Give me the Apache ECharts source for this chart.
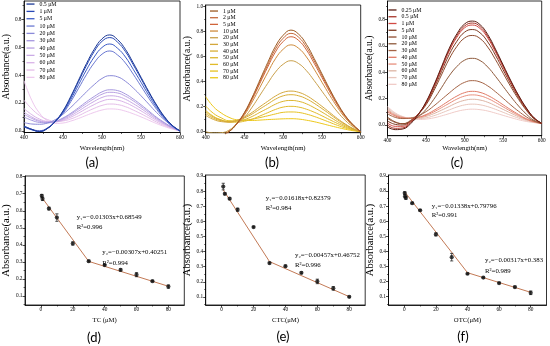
<!DOCTYPE html>
<html><head><meta charset="utf-8">
<script src="https://cdn.jsdelivr.net/npm/echarts@6/dist/echarts.min.js"></script>
<style>html,body{margin:0;padding:0;background:#fff}#c{width:550px;height:346px}</style>
</head><body><div id="c"></div>
<script>
// ---------- DATA ----------
const wavelengths = [400,410,420,430,440,450,460,470,480,490,500,510,520,530,540,550,560,570,580,590,600];

// (a) TC spectra
const concA = ['0.5 μM','1 μM','5 μM','10 μM','20 μM','30 μM','40 μM','50 μM','60 μM','70 μM','80 μM'];
const absA = [
 [0.035,0.012,-0.004,0.018,0.069,0.144,0.248,0.365,0.482,0.585,0.660,0.688,0.654,0.585,0.488,0.385,0.282,0.186,0.103,0.041,0.0],
 [0.030,0.010,-0.004,0.018,0.068,0.140,0.241,0.355,0.468,0.569,0.642,0.669,0.636,0.569,0.475,0.375,0.274,0.181,0.100,0.040,0.0],
 [0.030,0.008,-0.002,0.020,0.068,0.133,0.226,0.332,0.437,0.530,0.598,0.623,0.592,0.530,0.442,0.349,0.255,0.168,0.093,0.037,0.0],
 [0.035,0.012,0.002,0.022,0.068,0.125,0.210,0.306,0.403,0.488,0.550,0.573,0.544,0.487,0.407,0.321,0.235,0.155,0.086,0.034,0.0],
 [0.060,0.050,0.048,0.057,0.081,0.120,0.169,0.224,0.280,0.332,0.376,0.396,0.388,0.356,0.308,0.252,0.192,0.132,0.080,0.036,0.0],
 [0.100,0.076,0.061,0.058,0.069,0.093,0.127,0.167,0.209,0.247,0.280,0.295,0.289,0.265,0.229,0.188,0.143,0.098,0.060,0.027,0.0],
 [0.120,0.090,0.069,0.062,0.068,0.089,0.120,0.157,0.196,0.232,0.263,0.277,0.272,0.249,0.216,0.176,0.134,0.092,0.056,0.025,0.0],
 [0.135,0.100,0.075,0.064,0.066,0.083,0.110,0.143,0.179,0.212,0.240,0.252,0.247,0.227,0.196,0.161,0.122,0.084,0.051,0.023,0.0],
 [0.160,0.117,0.085,0.068,0.065,0.077,0.099,0.128,0.160,0.189,0.214,0.226,0.221,0.203,0.176,0.144,0.109,0.075,0.046,0.021,0.0],
 [0.220,0.158,0.111,0.082,0.068,0.072,0.086,0.109,0.137,0.162,0.183,0.193,0.189,0.174,0.150,0.123,0.094,0.064,0.039,0.018,0.0],
 [0.360,0.219,0.127,0.074,0.054,0.057,0.071,0.090,0.112,0.133,0.150,0.158,0.155,0.142,0.123,0.101,0.077,0.053,0.032,0.014,0.0]
];

// (b) CTC spectra
const concB = ['1 μM','2 μM','5 μM','10 μM','20 μM','30 μM','40 μM','50 μM','60 μM','70 μM','80 μM'];
const absB = [
 [-0.040,-0.050,-0.033,0.000,0.065,0.154,0.276,0.415,0.553,0.683,0.772,0.813,0.780,0.699,0.585,0.463,0.341,0.228,0.130,0.057,0.0],
 [-0.040,-0.047,-0.031,0.000,0.063,0.150,0.268,0.401,0.535,0.661,0.748,0.787,0.756,0.677,0.567,0.449,0.331,0.220,0.126,0.055,0.0],
 [-0.038,-0.046,-0.030,0.000,0.061,0.144,0.258,0.388,0.517,0.638,0.722,0.760,0.730,0.654,0.547,0.433,0.319,0.213,0.122,0.053,0.0],
 [-0.030,-0.040,-0.025,0.003,0.060,0.134,0.238,0.355,0.473,0.584,0.660,0.695,0.667,0.598,0.500,0.396,0.292,0.195,0.111,0.049,0.0],
 [0.000,-0.010,-0.008,0.012,0.062,0.115,0.197,0.292,0.387,0.477,0.540,0.568,0.545,0.488,0.409,0.324,0.239,0.159,0.091,0.040,0.0],
 [0.130,0.098,0.081,0.077,0.091,0.118,0.155,0.200,0.243,0.285,0.315,0.325,0.315,0.289,0.249,0.203,0.154,0.105,0.062,0.026,0.0],
 [0.145,0.108,0.088,0.079,0.089,0.110,0.142,0.182,0.221,0.260,0.287,0.296,0.287,0.263,0.227,0.185,0.141,0.096,0.057,0.024,0.0],
 [0.160,0.117,0.093,0.079,0.083,0.097,0.122,0.155,0.187,0.220,0.243,0.250,0.243,0.223,0.192,0.157,0.119,0.081,0.048,0.020,0.0],
 [0.170,0.123,0.095,0.079,0.076,0.084,0.101,0.126,0.152,0.178,0.197,0.203,0.197,0.180,0.156,0.127,0.096,0.066,0.039,0.016,0.0],
 [0.205,0.147,0.111,0.088,0.088,0.093,0.100,0.113,0.127,0.142,0.155,0.158,0.154,0.141,0.122,0.099,0.075,0.051,0.030,0.013,0.0],
 [0.280,0.200,0.150,0.115,0.095,0.090,0.090,0.093,0.097,0.100,0.103,0.104,0.101,0.092,0.080,0.065,0.049,0.034,0.020,0.008,0.0]
];

// (c) OTC spectra
const concC = ['0.25 μM','0.5 μM','1 μM','5 μM','10 μM','20 μM','30 μM','40 μM','50 μM','60 μM','70 μM','80 μM'];
const absC = [
 [-0.015,-0.035,-0.030,0.010,0.080,0.175,0.300,0.440,0.580,0.690,0.765,0.787,0.760,0.685,0.575,0.455,0.335,0.225,0.130,0.055,0.012],
 [0.000,-0.025,-0.022,0.018,0.082,0.171,0.294,0.432,0.569,0.677,0.750,0.772,0.746,0.672,0.564,0.446,0.329,0.221,0.127,0.054,0.012],
 [0.015,-0.010,-0.010,0.025,0.083,0.168,0.288,0.423,0.558,0.664,0.736,0.757,0.731,0.659,0.553,0.438,0.322,0.217,0.125,0.053,0.012],
 [0.030,0.005,0.000,0.030,0.083,0.162,0.275,0.404,0.533,0.634,0.703,0.723,0.698,0.629,0.529,0.418,0.308,0.207,0.119,0.051,0.012],
 [0.050,0.020,0.010,0.035,0.083,0.153,0.258,0.379,0.500,0.595,0.659,0.678,0.655,0.590,0.496,0.392,0.289,0.194,0.112,0.047,0.012],
 [0.060,0.024,0.010,0.026,0.063,0.118,0.194,0.282,0.372,0.443,0.491,0.505,0.488,0.439,0.369,0.292,0.215,0.144,0.083,0.035,0.012],
 [0.085,0.058,0.049,0.053,0.071,0.101,0.144,0.193,0.242,0.289,0.323,0.336,0.326,0.296,0.252,0.202,0.151,0.104,0.062,0.030,0.012],
 [0.100,0.068,0.052,0.050,0.059,0.079,0.110,0.146,0.184,0.219,0.245,0.255,0.247,0.224,0.191,0.153,0.115,0.080,0.048,0.026,0.012],
 [0.110,0.074,0.055,0.051,0.057,0.073,0.099,0.131,0.164,0.196,0.219,0.228,0.221,0.201,0.171,0.137,0.104,0.072,0.044,0.024,0.012],
 [0.120,0.080,0.058,0.050,0.052,0.065,0.086,0.112,0.140,0.168,0.187,0.195,0.189,0.172,0.146,0.118,0.090,0.063,0.040,0.022,0.012],
 [0.130,0.087,0.061,0.049,0.048,0.054,0.070,0.091,0.114,0.136,0.152,0.158,0.153,0.139,0.119,0.096,0.073,0.052,0.034,0.020,0.012],
 [0.140,0.092,0.064,0.049,0.042,0.045,0.054,0.069,0.086,0.103,0.115,0.120,0.116,0.106,0.090,0.073,0.056,0.040,0.027,0.018,0.012]
];

// (d) TC calibration
const tcConc = [0.5,1,5,10,20,30,40,50,60,70,80];
const tcAbs  = [0.688,0.670,0.613,0.560,0.408,0.304,0.281,0.253,0.225,0.187,0.155];
const tcErr  = [0.008,0.010,0.008,0.022,0.010,0.005,0.004,0.006,0.012,0.004,0.010];
const tcFit  = [[0.5,0.679],[30,0.303],[80,0.157]];
const tcEq   = ['y₁=−0.01303x+0.68549','R²=0.996','y₂=−0.00307x+0.40251','R²=0.994'];

// (e) CTC calibration
const ctcConc = [1,2,5,10,20,30,40,50,60,70,80];
const ctcAbs  = [0.830,0.782,0.750,0.677,0.562,0.324,0.304,0.260,0.203,0.157,0.101];
const ctcErr  = [0.022,0.006,0.006,0.010,0.005,0.006,0.006,0.006,0.015,0.012,0.005];
const ctcFit  = [[1,0.808],[30,0.334],[80,0.102]];
const ctcEq   = ['y₁=−0.01618x+0.82379','R²=0.984','y₂=−0.00457x+0.46752','R²=0.996'];

// (f) OTC calibration
const otcConc = [0.25,0.5,1,5,10,20,30,40,50,60,70,80];
const otcAbs  = [0.787,0.765,0.755,0.720,0.673,0.513,0.362,0.252,0.227,0.190,0.164,0.126];
const otcErr  = [0.008,0.010,0.010,0.005,0.005,0.010,0.025,0.004,0.004,0.005,0.006,0.012];
const otcFit  = [[0.25,0.795],[40,0.259],[80,0.129]];
const otcEq   = ['y₁=−0.01338x+0.79796','R²=0.991','y₂=−0.00317x+0.383','R²=0.989'];

// tick values
const specXMajor = [400,450,500,550,600];
const specXMinor = [425,475,525,575];
const concXMajor = [0,20,40,60,80];
const concXMinor = [10,30,50,70];

// ---------- STYLE ----------
const SERIF = "'Liberation Serif','Times New Roman',serif";
const colorsA = ['#1d3a96','#2747b5','#3d5cc6','#6a78d2','#8b8ad9','#a697df','#b9a2e3','#caaae6','#d9b3e8','#e5bee9','#eec9ee'];
const colorsB = ['#9c5a22','#c46a3c','#d0643a','#cf8c3e','#c9a04c','#d3a73c','#d8ae36','#dcb52e','#e1bb2a','#e6c122','#ecc71a'];
const colorsC = ['#5c1e14','#a8352a','#d24a44','#7d3a22','#8f4b2e','#8e5a3c','#a46446','#e07a66','#e8907e','#dcb4a4','#e8c6bc','#f0ccc8'];
const FIT_COLOR = '#c37a56';

const chart = echarts.init(document.getElementById('c'), null, {renderer:'canvas'});

const grids = [
  {left:23,    top:1,   width:157,   height:131.5},
  {left:205.7, top:5,   width:155,   height:127.7},
  {left:387.5, top:1,   width:154.2, height:134.7},
  {left:25,    top:176, width:159.3, height:129},
  {left:205.7, top:175, width:159.5, height:130},
  {left:388.5, top:175, width:158,   height:130}
].map(g => Object.assign({show:true, borderColor:'#000', borderWidth:0.8, containLabel:false}, g));

const xAxes = [], yAxes = [];
function steps(a, b, s) { const r=[]; for (let v=a; v<=b+1e-9; v+=s) r.push(Math.round(v*1000)/1000); return r; }
function addAxis(list, gi, c) {
  const idx = list.length;
  list.push({
    gridIndex: gi, type:'value', position:c.pos, min:c.min, max:c.max,
    name:c.name, nameLocation:'middle', nameGap:c.gap,
    nameTextStyle:{fontFamily:SERIF, fontSize:c.nameSize, color:'#000'},
    axisLine:{show:true, onZero:false, lineStyle:{color:'#000', width:0.8}},
    axisTick:{show:true, length:2.5, customValues:c.majors, lineStyle:{color:'#000', width:0.7}},
    axisLabel:{show:true, customValues:c.majors, fontFamily:SERIF, fontSize:5.3, color:'#000', margin:2.5, formatter:c.fmt},
    splitLine:{show:false}
  });
  list.push({
    gridIndex: gi, type:'value', position:c.pos, min:c.min, max:c.max, offset:0,
    axisLine:{show:false, onZero:false},
    axisTick:{show:true, length:1.5, customValues:c.minors, lineStyle:{color:'#000', width:0.6}},
    axisLabel:{show:false}, splitLine:{show:false}
  });
  return idx;
}
const f1 = v => v.toFixed(1);
const f0 = v => String(Math.round(v));

const panels = [
  {x:{min:400,max:600,majors:specXMajor,minors:specXMinor,name:'Wavelength(nm)',gap:12,nameSize:6.7,fmt:f0},
   y:{min:-0.011,max:0.931,majors:steps(0,0.8,0.2),minors:steps(0.1,0.9,0.2),name:'Absorbance(a.u.)',gap:11,nameSize:9.5,fmt:f1}},
  {x:{min:400,max:600,majors:specXMajor,minors:specXMinor,name:'Wavelength(nm)',gap:12,nameSize:6.7,fmt:f0},
   y:{min:-0.008,max:1.014,majors:steps(0,1.0,0.2),minors:steps(0.1,0.9,0.2),name:'Absorbance(a.u.)',gap:11,nameSize:9.5,fmt:f1}},
  {x:{min:400,max:600,majors:specXMajor,minors:specXMinor,name:'Wavelength(nm)',gap:9,nameSize:6.7,fmt:f0},
   y:{min:-0.081,max:0.939,majors:steps(0,0.8,0.2),minors:steps(0.1,0.9,0.2),name:'Absorbance(a.u.)',gap:12,nameSize:9.5,fmt:f1}},
  {x:{min:-10,max:90,majors:concXMajor,minors:concXMinor,name:'TC (μM)',gap:12,nameSize:6.7,fmt:f0},
   y:{min:0.047,max:0.804,majors:steps(0.1,0.8,0.1),minors:steps(0.05,0.75,0.1),name:'Absorbance(a.u.)',gap:13,nameSize:10.5,fmt:f1}},
  {x:{min:-10,max:90,majors:concXMajor,minors:concXMinor,name:'CTC(μM)',gap:12,nameSize:6.7,fmt:f0},
   y:{min:0.047,max:0.9066,majors:steps(0.1,0.9,0.1),minors:steps(0.05,0.85,0.1),name:'Absorbance(a.u.)',gap:11,nameSize:10.5,fmt:f1}},
  {x:{min:-10,max:90,majors:concXMajor,minors:concXMinor,name:'OTC(μM)',gap:12,nameSize:6.7,fmt:f0},
   y:{min:0.045,max:0.9066,majors:steps(0.1,0.9,0.1),minors:steps(0.05,0.85,0.1),name:'Absorbance(a.u.)',gap:12,nameSize:10.5,fmt:f1}}
];
const axIdx = panels.map((p, gi) => ({
  x: addAxis(xAxes, gi, Object.assign({pos:'bottom'}, p.x)),
  y: addAxis(yAxes, gi, Object.assign({pos:'left'}, p.y))
}));

const series = [];
function addSpectra(pi, prefix, conc, abs, colors) {
  conc.forEach((c, i) => {
    series.push({
      type:'line', name: prefix + '|' + c,
      xAxisIndex: axIdx[pi].x, yAxisIndex: axIdx[pi].y,
      data: wavelengths.map((w, j) => [w, abs[i][j]]),
      smooth: 0.45, symbol:'none', clip:true, silent:true,
      lineStyle:{color:colors[i], width:1}, itemStyle:{color:colors[i]},
      z: 2 + (conc.length - i) * 0.01
    });
  });
}
addSpectra(0, 'a', concA, absA, colorsA);
addSpectra(1, 'b', concB, absB, colorsB);
addSpectra(2, 'c', concC, absC, colorsC);

function addCal(pi, conc, abs, err, fit) {
  const xi = axIdx[pi].x, yi = axIdx[pi].y;
  series.push({type:'line', xAxisIndex:xi, yAxisIndex:yi, data:fit, symbol:'none', silent:true,
    lineStyle:{color:FIT_COLOR, width:1}, z:2});
  series.push({type:'custom', xAxisIndex:xi, yAxisIndex:yi, silent:true, z:3,
    data: conc.map((c, i) => [c, abs[i], err[i]]),
    encode:{x:0, y:1},
    renderItem: (params, api) => {
      const x = api.value(0), y = api.value(1), e = api.value(2);
      const p1 = api.coord([x, y + e]), p2 = api.coord([x, y - e]);
      const w = 1.6, st = {stroke:'#111', lineWidth:0.7};
      return {type:'group', children:[
        {type:'line', shape:{x1:p1[0], y1:p1[1], x2:p2[0], y2:p2[1]}, style:st},
        {type:'line', shape:{x1:p1[0]-w, y1:p1[1], x2:p1[0]+w, y2:p1[1]}, style:st},
        {type:'line', shape:{x1:p2[0]-w, y1:p2[1], x2:p2[0]+w, y2:p2[1]}, style:st}
      ]};
    }});
  series.push({type:'scatter', xAxisIndex:xi, yAxisIndex:yi, silent:true, z:4,
    data: conc.map((c, i) => [c, abs[i]]), symbolSize:4.2, itemStyle:{color:'#111'}});
}
addCal(3, tcConc, tcAbs, tcErr, tcFit);
addCal(4, ctcConc, ctcAbs, ctcErr, ctcFit);
addCal(5, otcConc, otcAbs, otcErr, otcFit);

function mkLegend(prefix, conc, left, top, pitch) {
  return {
    orient:'vertical', left:left, top:top, padding:0, itemGap:0,
    itemWidth:8, itemHeight:1.3, icon:'rect', selectedMode:false,
    data: conc.map(c => prefix + '|' + c),
    formatter: n => n.split('|')[1],
    textStyle:{fontFamily:SERIF, fontSize:5.8, color:'#000', lineHeight:pitch, height:pitch}
  };
}

const graphic = [];
function txt(x, y, s, size, family, align) {
  graphic.push({type:'text', x:x, y:y, silent:true,
    style:{text:s, fontSize:size, fontFamily:family, fill:'#000', align:align || 'left', verticalAlign:'middle'}});
}
[['(a)',92,163],['(b)',272,163],['(c)',457,163],['(d)',94,338],['(e)',283,337],['(f)',463,337]]
  .forEach(l => txt(l[1], l[2], l[0], 13, "Lato,'Open Sans',sans-serif", 'center'));
function eqs(eq, x1, y1, x2, y2) {
  txt(x1, y1, eq[0], 6.8, SERIF); txt(x1, y1 + 9.6, eq[1], 6.8, SERIF);
  txt(x2, y2, eq[2], 6.8, SERIF); txt(x2, y2 + 10.6, eq[3], 6.8, SERIF);
}
eqs(tcEq, 76.7, 217.7, 102.3, 252.7);
eqs(ctcEq, 265.7, 198.3, 295, 255);
eqs(otcEq, 431.7, 206, 485, 260.7);

chart.setOption({
  animation:false,
  backgroundColor:'#fff',
  grid: grids,
  xAxis: xAxes,
  yAxis: yAxes,
  legend: [
    mkLegend('a', concA, 26.5, 0.4, 7.33),
    mkLegend('b', concB, 210, 7.7, 6.67),
    mkLegend('c', concC, 388.5, 6.6, 6.76)
  ],
  series: series,
  graphic: graphic
});
</script></body></html>
